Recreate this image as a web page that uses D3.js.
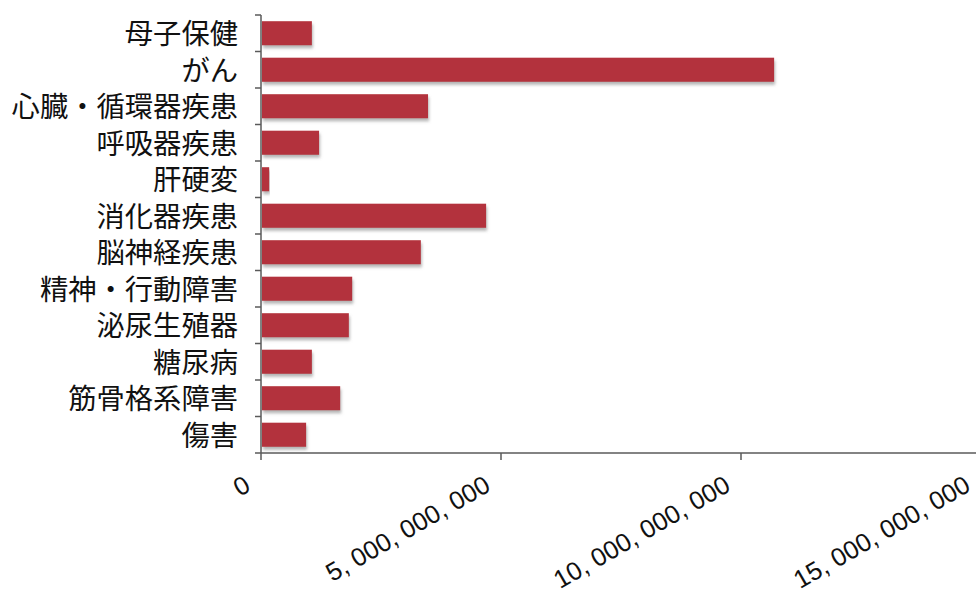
<!DOCTYPE html>
<html>
<head>
<meta charset="utf-8">
<script src="https://cdn.jsdelivr.net/npm/d3@7"></script>
<style>
  html, body { margin: 0; padding: 0; background: #ffffff; }
  svg { display: block; }
</style>
</head>
<body>
<script>
// Medical spending by disease category (yen)
const categories = [
  "母子保健", "がん", "心臓・循環器疾患", "呼吸器疾患", "肝硬変", "消化器疾患",
  "脳神経疾患", "精神・行動障害", "泌尿生殖器", "糖尿病", "筋骨格系障害", "傷害"
];
const values = [
  1.06e9, 10.69e9, 3.48e9, 1.21e9, 0.17e9, 4.69e9,
  3.33e9, 1.90e9, 1.83e9, 1.06e9, 1.65e9, 0.94e9
];
const tickValues = [0, 5e9, 10e9, 15e9];
const tickLabels = ["0", "5, 000, 000, 000", "10, 000, 000, 000", "15, 000, 000, 000"];

const W = 976, H = 595;
const margin = { left: 261, top: 15, bottom: 453 };

const svg = d3.select("body").append("svg")
  .attr("width", W).attr("height", H);

const defs = svg.append("defs");
const shadow = defs.append("filter").attr("id", "barShadow")
  .attr("x", "-5%").attr("y", "-20%").attr("width", "115%").attr("height", "160%");
shadow.append("feDropShadow")
  .attr("dx", 1).attr("dy", 3).attr("stdDeviation", 1.6)
  .attr("flood-color", "#7a7a7a").attr("flood-opacity", 0.55);

const x = d3.scaleLinear().domain([0, 15e9]).range([margin.left, margin.left + 720]);
const y = d3.scaleBand().domain(categories)
  .range([margin.top, margin.bottom])
  .paddingInner(0.34).paddingOuter(0.17);

// bars
svg.append("g").selectAll("rect")
  .data(categories)
  .join("rect")
  .attr("x", x(0) + 1)
  .attr("y", d => y(d))
  .attr("width", (d, i) => x(values[i]) - x(0) - 1)
  .attr("height", y.bandwidth())
  .attr("fill", "#b3323d")
  .attr("filter", "url(#barShadow)");

const axisColor = "#5a5a5a";

// category axis: line with ticks on band boundaries
const yTop = margin.top, yBot = margin.bottom;
svg.append("line")
  .attr("x1", x(0)).attr("x2", x(0))
  .attr("y1", yTop).attr("y2", yBot)
  .attr("stroke", axisColor).attr("stroke-width", 1.5);
const boundaries = d3.range(categories.length + 1).map(i => yTop + i * (yBot - yTop) / categories.length);
svg.append("g").selectAll("line")
  .data(boundaries)
  .join("line")
  .attr("x1", x(0) - 6).attr("x2", x(0))
  .attr("y1", d => d).attr("y2", d => d)
  .attr("stroke", axisColor).attr("stroke-width", 1.5);

svg.append("g").selectAll("text")
  .data(categories)
  .join("text")
  .attr("x", 238)
  .attr("y", d => y(d) + y.bandwidth() / 2 + 1)
  .attr("dy", "0.36em")
  .attr("text-anchor", "end")
  .attr("font-family", "'Noto Sans CJK JP', 'Noto Sans', sans-serif")
  .attr("font-size", 28.3)
  .attr("fill", "#111")
  .text(d => d);

// value axis
svg.append("line")
  .attr("x1", x(0)).attr("x2", W)
  .attr("y1", yBot).attr("y2", yBot)
  .attr("stroke", axisColor).attr("stroke-width", 1.5);
svg.append("g").selectAll("line")
  .data(tickValues)
  .join("line")
  .attr("x1", d => x(d)).attr("x2", d => x(d))
  .attr("y1", yBot).attr("y2", yBot + 7)
  .attr("stroke", axisColor).attr("stroke-width", 1.5);

svg.append("g").selectAll("text")
  .data(tickValues)
  .join("text")
  .attr("transform", d => `translate(${x(d) - 9},${yBot + 37}) rotate(-30)`)
  .attr("text-anchor", "end")
  .attr("font-family", "'Liberation Sans', Arial, sans-serif")
  .attr("font-size", 25.5)
  .attr("fill", "#111")
  .text((d, i) => tickLabels[i]);
</script>
</body>
</html>
